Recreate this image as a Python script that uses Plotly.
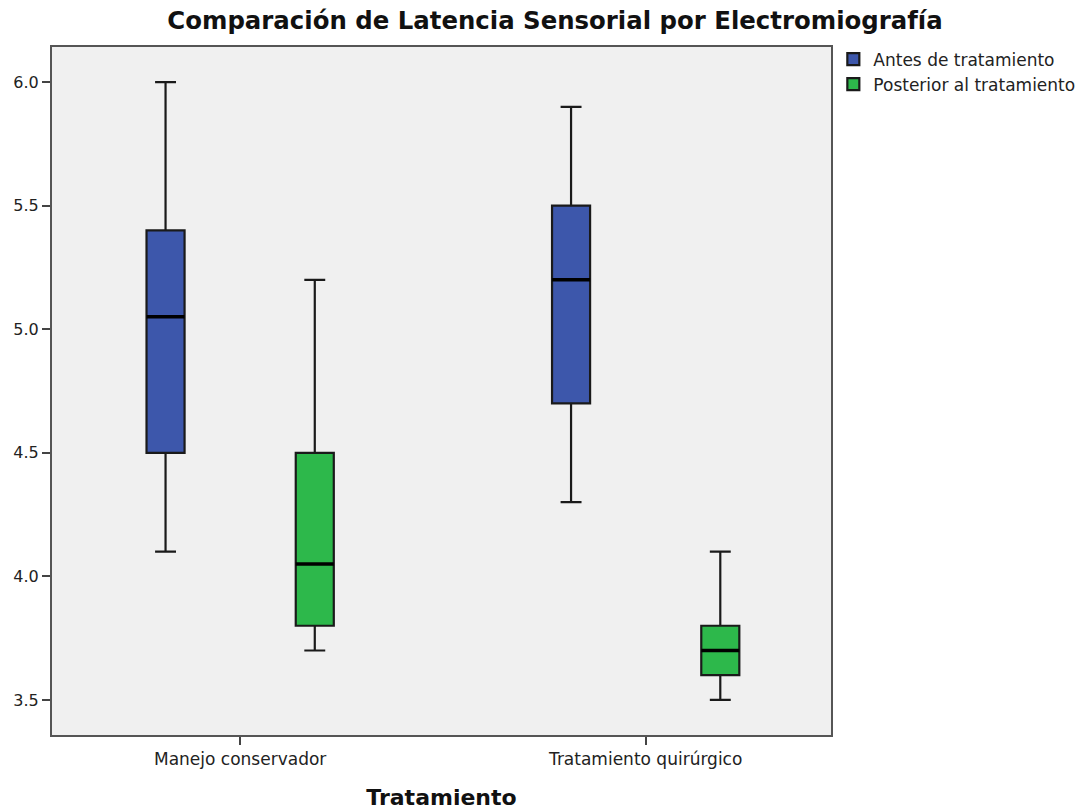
import plotly.graph_objects as go

categories = ["Manejo conservador", "Tratamiento quirúrgico"]
series_names = ["Antes de tratamiento", "Posterior al tratamiento"]
colors = ["#3D57AB", "#2DB84B"]

# Box statistics per series (one value per category)
antes_min = [4.1, 4.3]
antes_q1 = [4.5, 4.7]
antes_med = [5.05, 5.2]
antes_q3 = [5.4, 5.5]
antes_max = [6.0, 5.9]

post_min = [3.7, 3.5]
post_q1 = [3.8, 3.6]
post_med = [4.05, 3.7]
post_q3 = [4.5, 3.8]
post_max = [5.2, 4.1]

stats = [
    (antes_min, antes_q1, antes_med, antes_q3, antes_max),
    (post_min, post_q1, post_med, post_q3, post_max),
]

y_ticks = [3.5, 4.0, 4.5, 5.0, 5.5, 6.0]

FONT = "DejaVu Sans, Verdana, sans-serif"

fig = go.Figure()
for i, (name, col, (mn, q1, md, q3, mx)) in enumerate(zip(series_names, colors, stats)):
    fig.add_trace(go.Box(
        name=name, x=categories, q1=q1, median=md, q3=q3,
        lowerfence=mn, upperfence=mx,
        fillcolor=col, line=dict(color="#1a1a1a", width=2.2),
        whiskerwidth=0.55, offsetgroup=str(i), boxpoints=False,
        hoverinfo="skip",
    ))
for i, (name, (mn, q1, md, q3, mx)) in enumerate(zip(series_names, stats)):
    # thick median line overlay
    fig.add_trace(go.Box(
        name=name + " mediana", x=categories, q1=md, median=md, q3=md,
        lowerfence=md, upperfence=md,
        fillcolor="black", line=dict(color="black", width=3.5),
        whiskerwidth=0, offsetgroup=str(i), boxpoints=False,
        showlegend=False, hoverinfo="skip",
    ))

fig.update_layout(
    width=1076, height=811,
    margin=dict(l=52, r=245, t=47, b=76, autoexpand=False),
    paper_bgcolor="white", plot_bgcolor="#F0F0F0",
    boxmode="group", boxgap=0.264, boxgroupgap=0.745,
    font=dict(family=FONT, size=17, color="#222"),
    title=dict(text="<b>Comparación de Latencia Sensorial por Electromiografía</b>",
               x=555/1076, xanchor="center", y=1 - 20/811, yanchor="middle",
               font=dict(family=FONT, size=24.4, color="#111")),
    showlegend=True,
    legend=dict(x=1.003, y=1.008, xanchor="left", yanchor="top",
                font=dict(family=FONT, size=17, color="#222"), bgcolor="rgba(0,0,0,0)",
                tracegroupgap=0, itemwidth=30),
)
fig.update_xaxes(
    range=[-0.464, 1.457], showline=True, mirror=True, linecolor="#555", linewidth=2,
    ticks="outside", ticklen=8, tickwidth=1.5, tickcolor="#444", showgrid=False,
    automargin=False,
    title=dict(text="<b>Tratamiento</b>", font=dict(family=FONT, size=22, color="#111"), standoff=21),
    tickfont=dict(family=FONT, size=17, color="#222"),
)
fig.update_yaxes(
    range=[3.358, 6.142], tickvals=y_ticks, ticktext=[f"{v:.1f}" for v in y_ticks],
    showline=True, mirror=True, linecolor="#555", linewidth=2, automargin=False,
    ticks="outside", ticklen=8, tickwidth=1.5, tickcolor="#444", showgrid=False,
    zeroline=False, tickfont=dict(family=FONT, size=16, color="#222"),
)

fig.write_html("out.html")
